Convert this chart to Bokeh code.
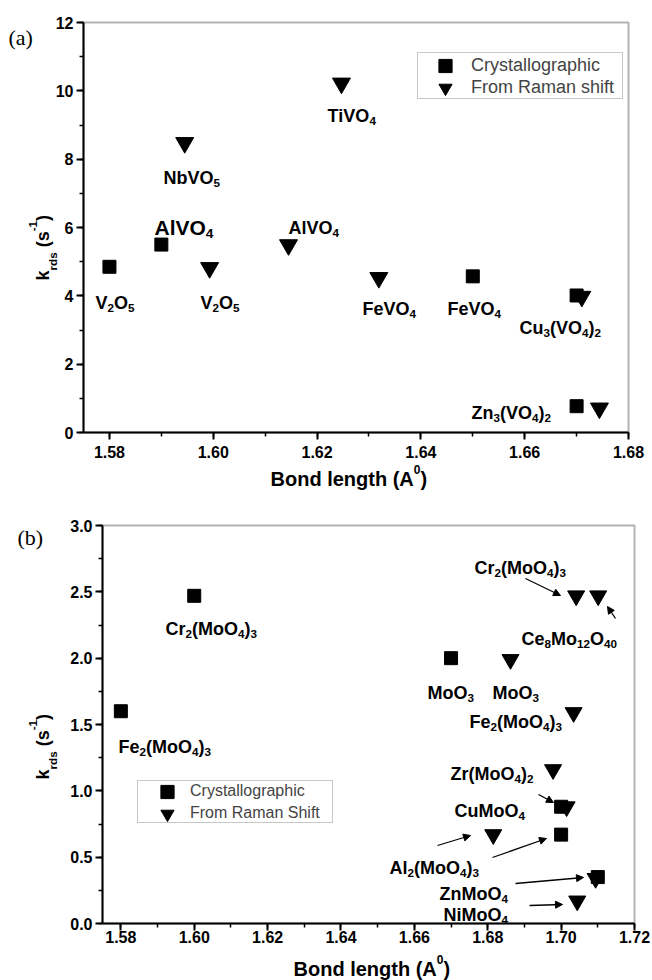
import math
from bokeh.plotting import figure
from bokeh.models import (Range1d, SingleIntervalTicker, NumeralTickFormatter, Label,
                          Legend, LegendItem, BoxAnnotation, Arrow, NormalHead, ColumnDataSource)
from bokeh.layouts import column
from bokeh.embed import file_html
from bokeh.resources import INLINE

# ---------------- data: (a) vanadates ----------------
va_cryst_names = ["V2O5", "AlVO4", "FeVO4", "Cu3(VO4)2", "Zn3(VO4)2"]
va_cryst_x = [1.580, 1.590, 1.650, 1.670, 1.670]
va_cryst_y = [4.85, 5.50, 4.57, 4.01, 0.77]

va_raman_names = ["NbVO5", "AlVO4", "V2O5", "TiVO4", "FeVO4", "Cu3(VO4)2", "Zn3(VO4)2"]
va_raman_x = [1.5945, 1.6145, 1.5993, 1.6247, 1.6319, 1.6710, 1.6744]
va_raman_y = [8.48, 5.49, 4.82, 10.22, 4.53, 3.98, 0.71]

# ---------------- data: (b) molybdates ----------------
mo_cryst_names = ["Cr2(MoO4)3", "Fe2(MoO4)3", "MoO3", "CuMoO4", "Al2(MoO4)3", "ZnMoO4"]
mo_cryst_x = [1.600, 1.580, 1.670, 1.700, 1.700, 1.710]
mo_cryst_y = [2.47, 1.60, 2.00, 0.88, 0.67, 0.35]

mo_raman_names = ["Cr2(MoO4)3", "Ce8Mo12O40", "MoO3", "Fe2(MoO4)3", "Zr(MoO4)2",
                  "CuMoO4", "Al2(MoO4)3", "ZnMoO4", "NiMoO4"]
mo_raman_x = [1.7041, 1.7101, 1.6862, 1.7034, 1.6978, 1.7015, 1.6815, 1.7094, 1.7044]
mo_raman_y = [2.47, 2.47, 1.99, 1.59, 1.16, 0.88, 0.67, 0.34, 0.17]

legend_labels_a = ["Crystallographic", "From Raman shift"]
legend_labels_b = ["Crystallographic", "From Raman Shift"]

# ---------------- annotation layout (page pixels) ----------------
va_text = [("NbVO5", 163, 177, 18), ("AlVO4", 154, 227, 21), ("AlVO4", 288, 227, 18),
           ("TiVO4", 327, 115, 18), ("V2O5", 95, 302, 18), ("V2O5", 200, 302, 18),
           ("FeVO4", 362, 308, 18), ("FeVO4", 447, 308, 18),
           ("Cu3(VO4)2", 519, 327, 18), ("Zn3(VO4)2", 471, 412, 18)]
mo_text = [("Cr2(MoO4)3", 165, 628, 18), ("Fe2(MoO4)3", 118, 746, 18),
           ("Cr2(MoO4)3", 474, 567, 18), ("Ce8Mo12O40", 521, 638, 18),
           ("MoO3", 427, 692, 18), ("MoO3", 492, 692, 18), ("Fe2(MoO4)3", 469, 721, 18),
           ("Zr(MoO4)2", 450, 773, 18), ("CuMoO4", 454, 810, 18),
           ("Al2(MoO4)3", 389, 867, 18), ("ZnMoO4", 439, 893, 18), ("NiMoO4", 443, 914, 18)]
mo_arrows = [(525, 578, 560, 595), (615, 618, 607, 606), (538, 794, 553, 802),
             (437, 845, 470, 835), (492, 857, 546, 838), (515, 883, 583, 877),
             (529, 905, 562, 904)]

FONT = "Liberation Sans"
W = {'A': 722, 'B': 722, 'C': 722, 'D': 722, 'E': 667, 'F': 611, 'G': 778, 'H': 722, 'I': 278,
     'J': 556, 'K': 722, 'L': 611, 'M': 833, 'N': 722, 'O': 778, 'P': 667, 'Q': 778, 'R': 722,
     'S': 667, 'T': 611, 'U': 722, 'V': 667, 'W': 944, 'X': 667, 'Y': 667, 'Z': 611,
     'a': 556, 'b': 611, 'c': 556, 'd': 611, 'e': 556, 'f': 333, 'g': 611, 'h': 611, 'i': 278,
     'j': 278, 'k': 556, 'l': 278, 'm': 889, 'n': 611, 'o': 611, 'p': 611, 'q': 611, 'r': 389,
     's': 556, 't': 333, 'u': 611, 'v': 556, 'w': 778, 'x': 556, 'y': 556, 'z': 500,
     '(': 333, ')': 333, ' ': 278, '-': 333, '.': 278}

PAGE_W = 652
PANEL_H = 490


def tw(s, fs):
    return sum(W.get(c, 556) for c in s) * fs / 1000.0


def make_conv(left, right, top, bottom, xr, yr):
    def conv(px, py):
        return (xr[0] + (px - left) / (right - left) * (xr[1] - xr[0]),
                yr[0] + (bottom - py) / (bottom - top) * (yr[1] - yr[0]))
    return conv


def parse_formula(s):
    runs = []
    for ch in s:
        kind = 'sub' if ch.isdigit() else 'n'
        if runs and runs[-1][1] == kind:
            runs[-1][0] += ch
        else:
            runs.append([ch, kind])
    return runs


def rich(p, conv, runs, x0, y0, size, angle=0.0, scale=0.65, sub_shift=None, sup_shift=None,
         bold=True, font=FONT):
    if sub_shift is None:
        sub_shift = 0.3 * size
    if sup_shift is None:
        sup_shift = 0.45 * size
    pos = 0.0
    for text, kind in runs:
        fs = size if kind == 'n' else size * scale
        shift = 0.0 if kind == 'n' else (sub_shift if kind == 'sub' else -sup_shift)
        stripped = text.lstrip(" ")
        lead = tw(text[:len(text) - len(stripped)], fs)
        if angle == 0:
            px, py = x0 + pos + lead, y0 + shift
        else:
            px, py = x0 + shift, y0 - pos - lead
        x, y = conv(px, py)
        p.add_layout(Label(x=x, y=y, text=stripped, text_font=font,
                           text_font_size=f"{fs:.1f}px",
                           text_font_style="bold" if bold else "normal", text_color="black",
                           text_baseline="alphabetic", text_align="left", angle=angle))
        pos += tw(text, fs)


def make_panel(box, xr, yr, canvas_top, xint, yint, yfmt, xstandoff):
    left, right, top, bottom = box
    kx = (xr[1] - xr[0]) / (right - left)
    ky = (yr[1] - yr[0]) / (bottom - top)
    x_range = Range1d(xr[0] - left * kx, xr[1] + (PAGE_W - right) * kx)
    y_range = Range1d(yr[0] - (canvas_top + PANEL_H - bottom) * ky,
                      yr[1] + (top - canvas_top) * ky)
    p = figure(width=PAGE_W, height=PANEL_H, x_range=x_range, y_range=y_range,
               output_backend="svg", toolbar_location=None, min_border=0)
    p.outline_line_color = None
    p.xgrid.visible = False
    p.ygrid.visible = False
    p.xaxis.fixed_location = yr[0]
    p.yaxis.fixed_location = xr[0]
    p.xaxis.bounds = xr
    p.yaxis.bounds = yr
    p.xaxis.ticker = SingleIntervalTicker(interval=xint, num_minor_ticks=2)
    p.yaxis.ticker = SingleIntervalTicker(interval=yint, num_minor_ticks=2)
    p.xaxis.formatter = NumeralTickFormatter(format="0.00")
    p.yaxis.formatter = NumeralTickFormatter(format=yfmt)
    for ax in (p.xaxis, p.yaxis):
        ax.axis_line_width = 2
        ax.major_tick_line_width = 2
        ax.minor_tick_line_width = 1.5
        ax.major_tick_in = 0
        ax.major_tick_out = 7
        ax.minor_tick_in = 0
        ax.minor_tick_out = 4
        ax.major_label_text_font = FONT
        ax.major_label_text_font_style = "bold"
        ax.major_label_text_font_size = "16px"
        ax.major_label_text_color = "black"
    p.xaxis.major_label_standoff = xstandoff
    p.yaxis.major_label_standoff = 3
    # plot box (top and right edges)
    p.add_layout(BoxAnnotation(left=xr[0], right=xr[1], bottom=yr[0], top=yr[1],
                               fill_alpha=0, line_color="black", line_width=2))
    conv = make_conv(left, right, top, bottom, xr, yr)
    return p, conv


def add_legend(p, canvas_top, renderers, labels, glyph_cx, text_x, row_cy, gw, fs):
    gh = 33
    st = text_x - glyph_cx - gw / 2
    L = glyph_cx - gw / 2
    for r, lab, cy in zip(renderers, labels, row_cy):
        bottom_page = cy + gh / 2
        leg = Legend(items=[LegendItem(label=lab, renderers=[r])],
                     location=(L, canvas_top + PANEL_H - bottom_page),
                     glyph_width=gw, glyph_height=gh, label_standoff=int(round(st)),
                     padding=0, spacing=0, margin=0, border_line_alpha=0,
                     background_fill_alpha=0, label_text_font=FONT,
                     label_text_font_size=f"{fs}px", label_height=20)
        p.add_layout(leg)


# ================= panel (a) =================
xr_a, yr_a = (1.575, 1.68), (0, 12)
p1, conv_a = make_panel((83, 628, 22, 432), xr_a, yr_a, 0, 0.02, 2, "0", 6)

src_a1 = ColumnDataSource(dict(x=va_cryst_x, y=va_cryst_y, name=va_cryst_names))
src_a2 = ColumnDataSource(dict(x=va_raman_x, y=va_raman_y, name=va_raman_names))
ra1 = p1.scatter("x", "y", source=src_a1, marker="square", size=13,
                 fill_color="black", line_color="black")
ra2 = p1.scatter("x", "y", source=src_a2, marker="inverted_triangle", size=18,
                 fill_color="black", line_color="black")

for name, px, py, fs in va_text:
    rich(p1, conv_a, parse_formula(name), px, py, fs)

bl, bt = conv_a(417, 52)
br, bb = conv_a(622, 98)
p1.add_layout(BoxAnnotation(left=bl, right=br, top=bt, bottom=bb, fill_alpha=0,
                            line_color="#444444", line_width=1))
add_legend(p1, 0, [ra1, ra2], legend_labels_a, 445, 471, [65, 87], 40, 18)

rich(p1, conv_a, [("Bond length (A", 'n'), ("0", 'sup'), (")", 'n')], 270, 478, 20,
     scale=0.6, sup_shift=9)
rich(p1, conv_a, [("k", 'n'), ("rds", 'sub'), (" (s", 'n'), ("-1", 'sup'), (")", 'n')],
     42, 280, 18, angle=math.pi / 2, sub_shift=10, sup_shift=10)
rich(p1, conv_a, [("(a)", 'n')], 8, 37, 22, bold=False, font="Liberation Serif")

# ================= panel (b) =================
xr_b, yr_b = (1.575, 1.72), (0, 3)
p2, conv_b = make_panel((102, 634, 525, 923), xr_b, yr_b, PANEL_H, 0.02, 0.5, "0.0", 0)

src_b1 = ColumnDataSource(dict(x=mo_cryst_x, y=mo_cryst_y, name=mo_cryst_names))
src_b2 = ColumnDataSource(dict(x=mo_raman_x, y=mo_raman_y, name=mo_raman_names))
rb1 = p2.scatter("x", "y", source=src_b1, marker="square", size=13,
                 fill_color="black", line_color="black")
rb2 = p2.scatter("x", "y", source=src_b2, marker="inverted_triangle", size=17,
                 fill_color="black", line_color="black")

for name, px, py, fs in mo_text:
    rich(p2, conv_b, parse_formula(name), px, py, fs)

for x0, y0, x1, y1 in mo_arrows:
    xs, ys = conv_b(x0, y0)
    xe, ye = conv_b(x1, y1)
    p2.add_layout(Arrow(end=NormalHead(size=7, fill_color="black", line_color="black",
                                       line_width=1),
                        x_start=xs, y_start=ys, x_end=xe, y_end=ye,
                        line_color="black", line_width=1.3))

bl, bt = conv_b(137, 780)
br, bb = conv_b(332, 822)
p2.add_layout(BoxAnnotation(left=bl, right=br, top=bt, bottom=bb, fill_alpha=0,
                            line_color="#444444", line_width=1))
add_legend(p2, PANEL_H, [rb1, rb2], legend_labels_b, 167, 190, [791, 813], 36, 16)

rich(p2, conv_b, [("Bond length (A", 'n'), ("0", 'sup'), (")", 'n')], 293, 968, 20,
     scale=0.6, sup_shift=9)
rich(p2, conv_b, [("k", 'n'), ("rds", 'sub'), (" (s", 'n'), ("-1", 'sup'), (")", 'n')],
     42, 779, 18, angle=math.pi / 2, sub_shift=10, sup_shift=10)
rich(p2, conv_b, [("(b)", 'n')], 17, 537, 22, bold=False, font="Liberation Serif")

layout = column(p1, p2)
open("out.html", "w").write(file_html(layout, INLINE))
